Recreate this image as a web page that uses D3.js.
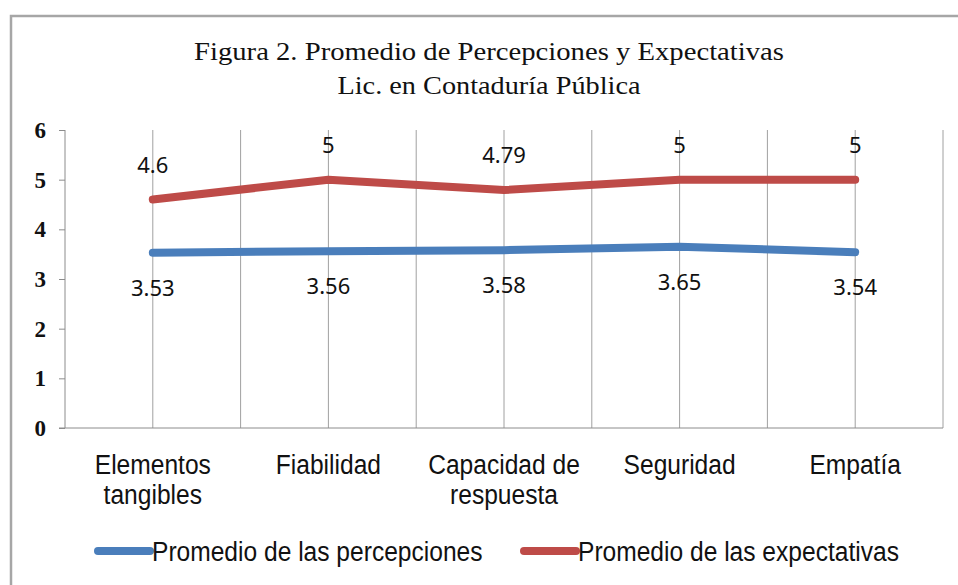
<!DOCTYPE html>
<html>
<head>
<meta charset="utf-8">
<script src="https://cdn.jsdelivr.net/npm/d3@7"></script>
<style>
  body { margin: 0; background: #fff; }
  svg { display: block; }
</style>
</head>
<body>
<div id="chart"></div>
<script>
// chart data
const categories = ["Elementos tangibles", "Fiabilidad", "Capacidad de respuesta", "Seguridad", "Empatía"];
const categoryLines = [["Elementos", "tangibles"], ["Fiabilidad"], ["Capacidad de", "respuesta"], ["Seguridad"], ["Empatía"]];
const percepciones = [3.53, 3.56, 3.58, 3.65, 3.54];
const expectativas = [4.6, 5, 4.79, 5, 5];
const yTicks = [0, 1, 2, 3, 4, 5, 6];
const titleLines = ["Figura 2.  Promedio de Percepciones y Expectativas", "Lic. en Contaduría Pública"];
const seriesNames = ["Promedio de las percepciones", "Promedio de las expectativas"];

const width = 958, height = 585;
const margin = { top: 130, right: 15, bottom: 157, left: 65 };
const innerW = 943 - margin.left;
const innerH = 428 - margin.top;

const blue = "#4a7ebb", red = "#be4b48";
const serif = "'Liberation Serif', 'DejaVu Serif', serif";
const sans = "'Liberation Sans', Arial, sans-serif";

// squeeze a text horizontally so a regular sans looks like the narrow original
function narrow(sel, factor) {
    sel.each(function() {
        const w = this.getComputedTextLength();
        d3.select(this).attr("textLength", w * factor).attr("lengthAdjust", "spacingAndGlyphs");
    });
}

const svg = d3.select("#chart").append("svg")
    .attr("width", width)
    .attr("height", height);

// outer chart border (cropped on the right and bottom)
svg.append("rect")
    .attr("x", 11).attr("y", 16)
    .attr("width", width).attr("height", height)
    .attr("fill", "#fff")
    .attr("stroke", "#a6a6a6")
    .attr("stroke-width", 2.5);

// title
const titleWidths = [590, 303];
svg.append("g")
    .selectAll("text")
    .data(titleLines)
    .enter().append("text")
    .attr("x", 489)
    .attr("y", (d, i) => 60 + i * 34)
    .attr("text-anchor", "middle")
    .attr("font-family", serif)
    .attr("font-size", 25)
    .attr("fill", "#111")
    .attr("textLength", (d, i) => titleWidths[i])
    .attr("lengthAdjust", "spacingAndGlyphs")
    .text(d => d);

const plot = svg.append("g")
    .attr("transform", `translate(${margin.left},${margin.top})`);

// scales
const xBand = d3.scaleBand().domain(categories).range([0, innerW]);
const x = d => xBand(d) + xBand.bandwidth() / 2;
const y = d3.scaleLinear().domain([0, 6]).range([innerH, 0]);

// vertical gridlines at category boundaries and centres
const gridX = [];
categories.forEach(c => { gridX.push(xBand(c) + xBand.bandwidth()); gridX.push(x(c)); });
plot.append("g")
    .selectAll("line")
    .data(gridX)
    .enter().append("line")
    .attr("x1", d => d).attr("x2", d => d)
    .attr("y1", 0).attr("y2", innerH)
    .attr("stroke", "#a0a0a0")
    .attr("stroke-width", 1);

// y axis
const yAxis = d3.axisLeft(y).tickValues(yTicks).tickSize(6).tickPadding(13).tickFormat(d3.format("d"));
const yG = plot.append("g").call(yAxis);
yG.select(".domain").attr("stroke", "#8c8c8c").attr("d", `M0,0V${innerH}`);
yG.selectAll(".tick line").attr("stroke", "#8c8c8c");
yG.selectAll(".tick text")
    .attr("font-family", serif)
    .attr("font-size", 23)
    .attr("font-weight", "bold")
    .attr("fill", "#111");

// x axis
const xAxis = d3.axisBottom(xBand).tickSize(0).tickFormat("");
const xG = plot.append("g").attr("transform", `translate(0,${innerH})`).call(xAxis);
xG.select(".domain").attr("stroke", "#8c8c8c").attr("d", `M-6,0H${innerW}`);

const catText = plot.append("g")
    .selectAll("text")
    .data(categories)
    .enter().append("text")
    .attr("text-anchor", "middle")
    .attr("font-family", sans)
    .attr("font-size", 27)
    .attr("fill", "#111");
const catSpans = catText.selectAll("tspan")
    .data((d, i) => categoryLines[i].map(t => ({ t, c: d })))
    .enter().append("tspan")
    .attr("x", d => x(d.c))
    .attr("y", (d, i) => innerH + 46 + i * 30)
    .text(d => d.t);
narrow(catSpans, 0.91);

// lines
const line = d3.line()
    .x((d, i) => x(categories[i]))
    .y(d => y(d));

const series = [
    { name: seriesNames[0], values: percepciones, color: blue, dy: 43 },
    { name: seriesNames[1], values: expectativas, color: red, dy: -27 }
];

series.forEach(s => {
    plot.append("path")
        .datum(s.values)
        .attr("d", line)
        .attr("fill", "none")
        .attr("stroke", s.color)
        .attr("stroke-width", 8)
        .attr("stroke-linecap", "round")
        .attr("stroke-linejoin", "round");

    plot.append("g")
        .selectAll("text")
        .data(s.values)
        .enter().append("text")
        .attr("x", (d, i) => x(categories[i]))
        .attr("y", d => y(d) + s.dy)
        .attr("text-anchor", "middle")
        .attr("font-family", "'Noto Sans', 'DejaVu Sans', sans-serif")
        .attr("font-size", 22)
        .attr("fill", "#111")
        .text(d => String(d));
});

// legend
const legendItems = [
    { name: seriesNames[0], color: blue, x: 98 },
    { name: seriesNames[1], color: red, x: 524 }
];
const legend = svg.append("g");
legendItems.forEach(l => {
    legend.append("line")
        .attr("x1", l.x).attr("x2", l.x + 52)
        .attr("y1", 551).attr("y2", 551)
        .attr("stroke", l.color)
        .attr("stroke-width", 8)
        .attr("stroke-linecap", "round");
    legend.append("text")
        .attr("x", l.x + 54)
        .attr("y", 561)
        .attr("font-family", sans)
        .attr("font-size", 27)
        .attr("fill", "#111")
        .text(l.name)
        .call(narrow, 0.91);
});
</script>
</body>
</html>
